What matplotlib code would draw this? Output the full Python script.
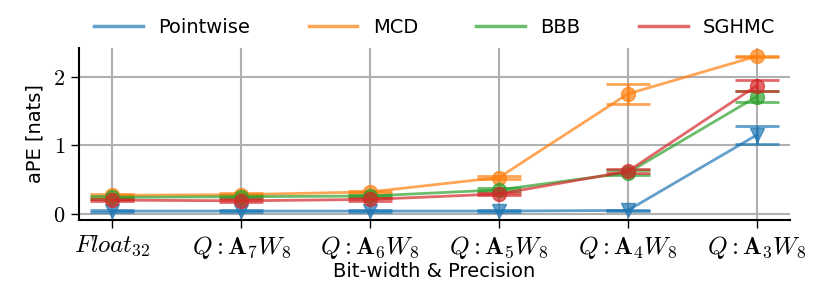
import numpy as np
from matplotlib import pyplot as plt
from matplotlib.lines import Line2D

plt.rcParams['mathtext.fontset'] = 'cm'
plt.rcParams['font.family'] = 'DejaVu Sans'

labels = [r'$Float_{32}$', r'$Q:\mathbf{A}_{\mathbf{7}}W_8$', r'$Q:\mathbf{A}_{\mathbf{6}}W_8$',
          r'$Q:\mathbf{A}_{\mathbf{5}}W_8$', r'$Q:\mathbf{A}_{\mathbf{4}}W_8$', r'$Q:\mathbf{A}_{\mathbf{3}}W_8$']
methods = ['Pointwise', 'MCD', 'BBB', 'SGHMC']
markers = ['v', 'o', 'o', 'o']

pointwise = [0.04, 0.04, 0.04, 0.04, 0.05, 1.15]
pointwise_err = [0.01, 0.01, 0.01, 0.01, 0.01, 0.13]
mcd = [0.27, 0.28, 0.32, 0.53, 1.75, 2.30]
mcd_err = [0.02, 0.02, 0.02, 0.02, 0.15, 0.01]
bbb = [0.24, 0.25, 0.26, 0.35, 0.60, 1.71]
bbb_err = [0.02, 0.02, 0.02, 0.02, 0.04, 0.08]
sghmc = [0.20, 0.19, 0.21, 0.29, 0.62, 1.87]
sghmc_err = [0.02, 0.02, 0.02, 0.02, 0.03, 0.08]

means = [pointwise, mcd, bbb, sghmc]
errs = [pointwise_err, mcd_err, bbb_err, sghmc_err]
colors = ['tab:blue', 'tab:orange', 'tab:green', 'tab:red']

fig = plt.figure(figsize=(8.3, 2.91), dpi=100)
ax = fig.add_axes([0.095, 0.244, 0.857, 0.591])
x = np.arange(len(labels))
for m, e, c, mk, name in zip(means, errs, colors, markers, methods):
    ax.errorbar(x, m, yerr=e, color=c, marker=mk, markersize=10, linewidth=2,
                capsize=16, capthick=2, elinewidth=2, alpha=0.7, label=name)

ax.set_xticks(x)
ax.set_xticklabels(labels, fontsize=18)
ax.set_yticks([0, 1, 2])
ax.set_yticklabels(['$0$', '$1$', '$2$'], fontsize=16)
ax.set_xlim(-0.26, 5.26)
ax.set_ylim(-0.09, 2.42)
ax.grid(True, color='#b0b0b0', linewidth=1.5)
ax.set_axisbelow(True)
ax.spines['top'].set_visible(False)
ax.spines['right'].set_visible(False)
ax.spines['left'].set_linewidth(1.5)
ax.spines['bottom'].set_linewidth(1.5)
ax.tick_params(length=6, width=1, pad=4)
ax.set_xlabel('Bit-width & Precision', fontsize=14, labelpad=1)
ax.set_ylabel('aPE [nats]', fontsize=14, labelpad=6)

h = [Line2D([], [], color=c, linewidth=2.5, alpha=0.7) for c in colors]
fig.legend(h, methods, loc='center', bbox_to_anchor=(0.524, 0.905), ncol=4,
           frameon=False, fontsize=14, handlelength=2.5, columnspacing=3.0)

fig.savefig('out.png', dpi=100)
